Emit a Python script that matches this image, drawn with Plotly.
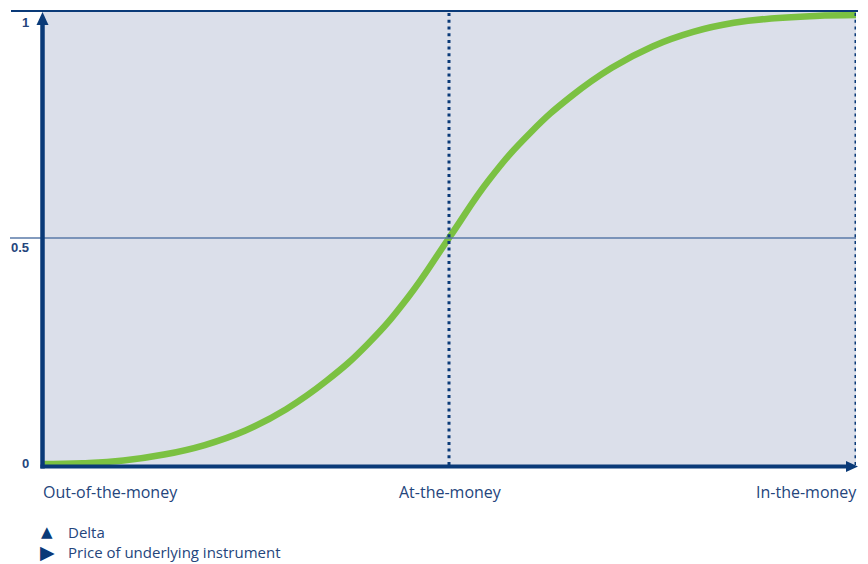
import plotly.graph_objects as go

# ---- data ----
price = [0, 5, 10, 15, 20, 25, 30, 35, 40, 45, 50, 55, 60, 65, 70, 75, 80, 85, 90, 95, 100]
delta = [0.002, 0.004, 0.010, 0.023, 0.044, 0.076, 0.123, 0.186, 0.266, 0.370, 0.500,
         0.630, 0.732, 0.812, 0.875, 0.922, 0.954, 0.974, 0.984, 0.989, 0.991]
y_ticks = [0, 0.5, 1]
y_tick_labels = ["0", "0.5", "1"]
money_labels = ["Out-of-the-money", "At-the-money", "In-the-money"]
money_positions = [0, 50, 100]
legend_items = [("▲", "Delta"), ("▶", "Price of underlying instrument")]

# ---- style ----
OFF = 8  # page body margin
W, H = 868 - OFF, 564 - OFF
L, T = 42 - OFF, 11 - OFF
R = W - (856 - OFF)
B = H - (465 - OFF)
PW, PH = W - L - R, H - T - B
NAVY = "#0a3a78"
TEXT = "#24457c"
GREEN = "#7bc142"
BG = "#dbdfea"
MID = "#5a7aa8"


def px(x):
    # reference-window pixel x -> paper coordinate
    return (x - OFF - L) / PW


def py(y):
    return (H - B - (y - OFF)) / PH


fig = go.Figure()
fig.add_trace(go.Scatter(x=price, y=delta, mode="lines",
                         line=dict(color=GREEN, width=6.5, shape="spline", smoothing=1.3),
                         hoverinfo="skip", showlegend=False, cliponaxis=False))

shapes = []
shapes.append(dict(type="line", xref="paper", yref="paper", x0=px(11), x1=px(858), y0=1, y1=1,
                   line=dict(color=NAVY, width=2)))
shapes.append(dict(type="line", xref="paper", yref="y", x0=px(10), x1=1, y0=0.5, y1=0.5,
                   line=dict(color=MID, width=1.5)))
for xv in [50, 100]:
    shapes.append(dict(type="line", xref="x", yref="paper", x0=xv, x1=xv, y0=0, y1=1,
                       line=dict(color=NAVY, width=3, dash="3px,3.7px")))
shapes.append(dict(type="line", xref="paper", yref="paper", x0=px(42.5), x1=px(42.5),
                   y0=py(468.5), y1=py(22), line=dict(color=NAVY, width=4.5)))
shapes.append(dict(type="line", xref="paper", yref="paper", x0=px(40.5), x1=px(850),
                   y0=py(466.5), y1=py(466.5), line=dict(color=NAVY, width=4)))
shapes.append(dict(type="path", xref="paper", yref="paper",
                   path=f"M {px(42.5)} {py(12)} L {px(36.5)} {py(25)} L {px(48.5)} {py(25)} Z",
                   fillcolor=NAVY, line=dict(width=0)))
shapes.append(dict(type="path", xref="paper", yref="paper",
                   path=f"M {px(858)} {py(466.5)} L {px(846)} {py(461)} L {px(846)} {py(472)} Z",
                   fillcolor=NAVY, line=dict(width=0)))

ann = []
tick_y_px = {0: 463.5, 0.5: 248, 1: 22.5}
for v, t in zip(y_ticks, y_tick_labels):
    ann.append(dict(text=f"<b>{t}</b>", xref="paper", yref="paper", x=px(31), y=py(tick_y_px[v]),
                    xanchor="right", yanchor="middle", showarrow=False,
                    font=dict(family="Liberation Sans, Arial", size=13, color=TEXT)))
anchors = ["left", "center", "right"]
shifts = [-1, 1, 3]
for t, xv, a, s in zip(money_labels, money_positions, anchors, shifts):
    ann.append(dict(text=t, xref="x", yref="paper", x=xv, y=py(492),
                    xanchor=a, yanchor="middle", showarrow=False, xshift=s,
                    font=dict(family="Open Sans", size=16, color=TEXT)))
sym_sizes = [15, 19]
for i, (sym, lab) in enumerate(legend_items):
    yy = py(532 + 20 * i)
    ann.append(dict(text=sym, xref="paper", yref="paper", x=px(47), y=yy, xanchor="center",
                    yanchor="middle", showarrow=False,
                    font=dict(family="DejaVu Sans", size=sym_sizes[i], color=NAVY)))
    ann.append(dict(text=lab, xref="paper", yref="paper", x=px(66), y=yy, xanchor="left",
                    yanchor="middle", showarrow=False,
                    font=dict(family="Open Sans", size=15, color=TEXT)))

fig.update_layout(
    width=W, height=H,
    margin=dict(l=L, r=R, t=T, b=B),
    plot_bgcolor=BG, paper_bgcolor="white",
    xaxis=dict(range=[0, 100], visible=False, fixedrange=True),
    yaxis=dict(range=[0, 1], visible=False, fixedrange=True),
    shapes=shapes, annotations=ann, showlegend=False,
)
fig.write_html("out.html")
